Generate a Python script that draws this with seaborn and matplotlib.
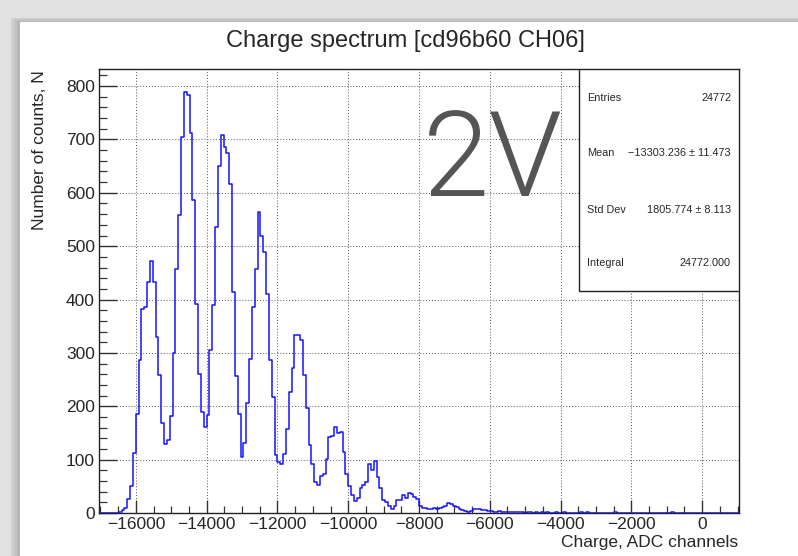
import numpy as np
import pandas as pd
import seaborn as sns
import matplotlib.pyplot as plt
from matplotlib.patches import Rectangle
from matplotlib.ticker import MultipleLocator

# ---------------- data ----------------
title = "Charge spectrum [cd96b60 CH06]"
x_label = "Charge, ADC channels"
y_label = "Number of counts, N"
hist_min, hist_max = -17040, 1040  # histogram range (ADC channels)
counts = [
    0, 0, 0, 0, 0, 0, 0, 2, 5, 9,
    27, 50, 112, 186, 287, 383, 386, 432, 472, 433,
    330, 258, 169, 129, 137, 181, 300, 457, 558, 705,
    789, 783, 713, 587, 391, 261, 189, 161, 183, 306,
    389, 536, 651, 709, 686, 674, 616, 414, 256, 186,
    105, 131, 206, 289, 386, 458, 564, 520, 489, 411,
    287, 217, 109, 95, 91, 111, 158, 227, 271, 334,
    334, 324, 258, 196, 127, 91, 58, 52, 69, 74,
    102, 142, 144, 161, 150, 152, 114, 73, 50, 34,
    22, 28, 46, 52, 58, 92, 80, 98, 68, 46,
    24, 21, 14, 8, 14, 24, 24, 33, 29, 38,
    35, 30, 27, 14, 10, 9, 8, 7, 9, 7,
    9, 11, 14, 18, 17, 14, 11, 8, 5, 4,
    2, 4, 7, 8, 8, 6, 5, 4, 3, 2,
    2, 3, 1, 2, 1, 2, 1, 1, 2, 1,
    0, 1, 1, 0, 1, 0, 1, 0, 1, 0,
    0, 1, 0, 0, 1, 0, 0, 0, 0, 0,
    1, 0, 1, 0, 0, 0, 0, 0, 0, 0,
    0, 0, 1, 0, 0, 0, 0, 0, 0, 0,
    0, 0, 0, 0, 0, 0, 0, 0, 0, 0,
    0, 0, 1, 0, 0, 0, 0, 0, 0, 0,
    0, 0, 0, 0, 0, 0, 0, 0, 0, 0,
    0, 0, 0, 0, 0, 0,
]
stats_names = ["Entries", "Mean", "Std Dev", "Integral"]
stats_values = ["24772", "\u221213303.236 \u00b1 11.473", "1805.774 \u00b1 8.113", "24772.000"]
annotation = "2V"

# ---------------- figure ----------------
n_bins = len(counts)
edges = np.linspace(hist_min, hist_max, n_bins + 1)
centers = 0.5 * (edges[:-1] + edges[1:])
df = pd.DataFrame({"charge": centers, "count": counts})

sns.set_theme(style="white")
plt.rcParams['font.family'] = ['Liberation Sans', 'DejaVu Sans']

W, H = 798, 556
fig = plt.figure(figsize=(W / 100, H / 100), dpi=100, facecolor="#e1e1e1")

# screenshot-like background: shadow + white canvas
for off, col in [(9, "#d0d0d0"), (6, "#c4c4c4"), (3, "#b8b8b8")]:
    fig.patches.append(Rectangle(((20 - off) / W, 0), (W - 20 + off) / W, (H - 22 + off * 0.5) / H,
                                 transform=fig.transFigure, facecolor=col, edgecolor="none", zorder=-10))
fig.patches.append(Rectangle((20 / W, 0), (W - 20) / W, (H - 22) / H,
                             transform=fig.transFigure, facecolor="white", edgecolor="none", zorder=-9))

ax_l, ax_r, ax_t, ax_b = 99, 739, 69, 513
ax = fig.add_axes([ax_l / W, 1 - ax_b / H, (ax_r - ax_l) / W, (ax_b - ax_t) / H], zorder=1)
ax.set_facecolor("white")

sns.histplot(data=df, x="charge", weights="count", bins=list(edges), element="step",
             fill=False, color="#1414ff", linewidth=1.1, ax=ax, zorder=3)

ax.set_xlim(hist_min, hist_max)
ax.set_ylim(0, 832)
ax.xaxis.set_major_locator(MultipleLocator(2000))
ax.xaxis.set_minor_locator(MultipleLocator(500))
ax.yaxis.set_major_locator(MultipleLocator(100))
ax.yaxis.set_minor_locator(MultipleLocator(20))

ax.tick_params(axis="x", which="major", direction="in", length=9.4, width=1.0, color="#333333",
               labelsize=12.5, pad=3, bottom=True, top=False)
ax.tick_params(axis="x", which="minor", direction="in", length=4.7, width=0.9, color="#333333",
               bottom=True, top=False)
ax.tick_params(axis="y", which="major", direction="in", length=12.6, width=1.0, color="#333333",
               labelsize=12.5, pad=3, left=True, right=False)
ax.tick_params(axis="y", which="minor", direction="in", length=6.0, width=0.9, color="#333333",
               left=True, right=False)

ax.grid(True, which="major", color="#555555", linestyle=(0, (1, 2)), linewidth=0.7)
ax.set_axisbelow(True)
for s in ax.spines.values():
    s.set_color("#222222")
    s.set_linewidth(1.0)
    s.set_visible(True)

ax.set_xlabel("")
ax.set_ylabel("")
fig.text(738 / W, 1 - 543 / H, x_label, ha="right", va="center", fontsize=12.5)
fig.text(40 / W, 1 - 70 / H, y_label, ha="center", va="top", rotation=90, fontsize=12.5)
fig.text(405 / W, 1 - 41 / H, title, ha="center", va="center", fontsize=17)

# stats box
ax.add_patch(Rectangle((0.75, 0.5), 0.25, 0.5, transform=ax.transAxes, facecolor="white",
                       edgecolor="#222222", linewidth=1.0, zorder=5))
row_y = [0.935, 0.811, 0.682, 0.563]
for name, val, yy in zip(stats_names, stats_values, row_y):
    ax.text(0.7625, yy, name, transform=ax.transAxes, ha="left", va="center", fontsize=7.8, zorder=6)
    ax.text(0.9875, yy, val, transform=ax.transAxes, ha="right", va="center", fontsize=7.8, zorder=6)

# big annotation
fig.text(493 / W, 1 - 196 / H, annotation, ha="center", va="baseline", fontsize=86,
         family=["Roboto", "DejaVu Sans"], fontweight=300, color="#555555", zorder=5)

fig.savefig("out.png", dpi=100, facecolor=fig.get_facecolor())
